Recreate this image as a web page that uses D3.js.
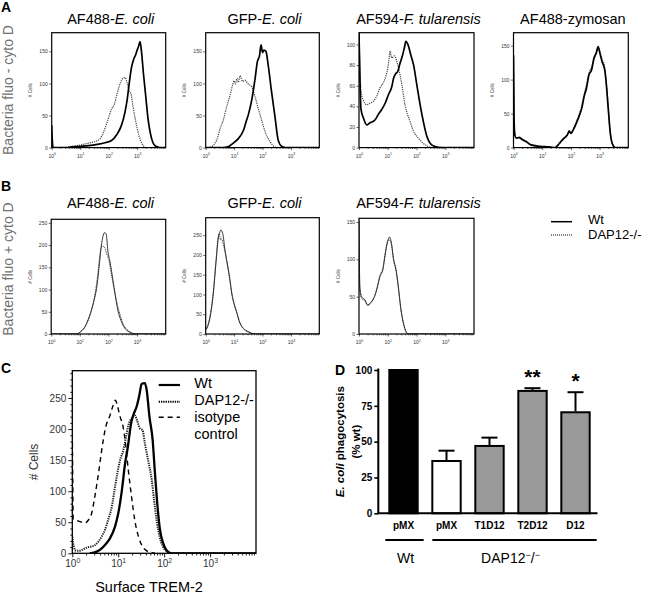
<!DOCTYPE html>
<html><head><meta charset="utf-8">
<script src="https://cdn.jsdelivr.net/npm/d3@7"></script>
<style>body{margin:0;background:#fff}svg{display:block}</style>
</head><body><svg id="c" width="647" height="594"></svg>
<script>
// ---------- DATA (histograms: [log10 fluorescence, # cells]) ----------
const a1Wt  = [[0,35],[0.02,12],[0.05,0],[0.5,0],[0.7,1],[1.0,2],[1.3,3],[1.6,5],[1.9,8],[2.1,11],[2.28,20],[2.45,35],[2.57,55],[2.65,75],[2.72,100],[2.8,125],[2.88,138],[2.95,145],[3.0,152],[3.05,158],[3.1,165],[3.15,150],[3.22,115],[3.3,80],[3.38,45],[3.45,25],[3.55,8],[3.65,2],[3.8,0],[4,0]];
const a1Dap = [[0.5,0],[0.7,2],[1.0,4],[1.3,7],[1.55,10],[1.7,14],[1.8,22],[1.95,40],[2.1,60],[2.2,68],[2.3,85],[2.42,102],[2.5,108],[2.58,109],[2.65,100],[2.72,88],[2.78,84],[2.85,65],[2.93,45],[3.0,30],[3.1,13],[3.2,4],[3.3,0],[4,0]];
const a2Wt  = [[0,0],[0.6,0],[0.8,1.5],[0.97,7],[1.15,14],[1.33,27],[1.42,40],[1.5,51],[1.62,74],[1.74,108],[1.82,134],[1.89,142],[1.95,160],[2.0,148],[2.05,152],[2.12,150],[2.2,129],[2.31,90],[2.44,48],[2.55,12],[2.67,2],[2.8,0],[4,0]];
const a2Dap = [[0,0],[0.12,0],[0.25,3],[0.39,12],[0.51,30],[0.62,43],[0.74,64],[0.86,82],[0.95,98],[1.0,104],[1.05,99],[1.1,108],[1.15,102],[1.21,112],[1.3,103],[1.38,105],[1.5,99],[1.62,95],[1.74,79],[1.85,61],[1.97,43],[2.09,25],[2.27,9],[2.44,1],[2.6,0],[4,0]];
const a3Wt  = [[0,112],[0.07,37],[0.15,29],[0.27,22],[0.38,24],[0.47,25],[0.56,27],[0.67,32],[0.79,37],[0.91,43],[1.02,51],[1.14,59],[1.2,67],[1.26,71],[1.35,74],[1.43,82],[1.51,89],[1.58,97],[1.63,103],[1.7,100],[1.81,89],[1.9,80],[2.01,61],[2.13,41],[2.24,25],[2.36,11],[2.48,4],[2.65,1],[2.88,0],[4,0]];
const a3Dap = [[0,112],[0.07,55],[0.15,46],[0.27,41.5],[0.38,43],[0.5,45],[0.62,50],[0.73,58],[0.85,63],[0.93,69],[1.0,77],[1.05,87],[1.08,93.5],[1.14,87],[1.23,89],[1.31,84],[1.4,74],[1.49,61],[1.6,41.5],[1.78,25],[1.93,14],[2.07,9],[2.24,4],[2.42,1],[2.6,0],[4,0]];
const a4Wt  = [[0,136],[0.02,40],[0.05,18],[0.1,14],[0.2,15],[0.27,13],[0.44,9],[0.61,4],[0.9,2],[1.25,1],[1.45,0],[1.53,3],[1.65,9],[1.76,14],[1.88,19],[1.94,24.5],[2.0,21],[2.08,26],[2.19,36],[2.28,45.6],[2.38,58],[2.46,75],[2.54,87],[2.63,107],[2.72,114],[2.8,131],[2.88,139],[2.95,148.5],[3.01,139],[3.09,126],[3.18,114],[3.23,95],[3.3,58],[3.38,18.6],[3.46,4],[3.55,0],[4,0]];
const a4Dap = [[0,132],[0.02,38],[0.05,17],[0.1,14],[0.2,14],[0.27,12],[0.44,8],[0.61,4],[0.9,2],[1.25,1],[1.45,0],[1.53,2],[1.65,8],[1.76,13],[1.88,18],[1.94,23],[2.0,22],[2.08,27],[2.19,38],[2.28,48],[2.38,62],[2.46,78],[2.54,92],[2.63,110],[2.72,118],[2.8,128],[2.86,136],[2.92,142],[2.96,146],[3.02,140],[3.08,130],[3.15,124],[3.2,110],[3.27,78],[3.35,30],[3.44,6],[3.55,0],[4,0]];
const b1Wt  = [[0,0],[0.89,0],[1.0,4],[1.17,15],[1.34,41],[1.48,71],[1.6,109],[1.69,161],[1.75,198],[1.8,217],[1.86,228],[1.92,225],[1.98,187],[2.06,161],[2.15,124],[2.24,86],[2.32,56],[2.44,30],[2.55,15],[2.72,5],[2.95,0],[4,0]];
const b1Dap = [[0,0],[0.89,0],[1.06,7.5],[1.23,22.5],[1.4,52],[1.52,86],[1.63,135],[1.71,183],[1.78,198],[1.86,195],[1.94,180],[2.01,168],[2.09,139],[2.21,97],[2.32,64],[2.4,45],[2.49,26],[2.63,11],[2.84,2],[3.0,0],[4,0]];
const b2Wt  = [[0,10],[0.09,23],[0.18,52],[0.27,103],[0.36,178],[0.45,246],[0.5,258],[0.53,263],[0.6,254],[0.68,212],[0.76,178],[0.84,145],[0.92,103],[1.0,77],[1.09,56],[1.19,31],[1.33,14],[1.5,6],[1.74,0],[4,0]];
const b2Dap = [[0,12],[0.09,26],[0.18,58],[0.27,110],[0.36,185],[0.43,240],[0.48,255],[0.52,238],[0.56,242],[0.6,232],[0.68,208],[0.76,175],[0.84,140],[0.92,100],[1.0,75],[1.09,54],[1.19,30],[1.33,13],[1.5,5],[1.74,0],[4,0]];
const b3Wt  = [[0,153],[0.03,63],[0.09,50],[0.21,45.6],[0.3,39],[0.38,41],[0.48,45.6],[0.56,52],[0.64,63],[0.73,77],[0.83,86],[0.91,106],[0.99,124],[1.03,128],[1.06,130],[1.13,121.5],[1.2,101],[1.29,86],[1.37,63],[1.45,36],[1.55,14],[1.64,3],[1.72,0],[4,0]];
const b3Dap = [[0,150],[0.03,58],[0.09,48],[0.21,44],[0.3,38],[0.38,40],[0.48,46],[0.56,53],[0.64,64],[0.73,79],[0.83,88],[0.91,108],[0.99,122],[1.04,127],[1.08,125],[1.13,119],[1.2,99],[1.29,84],[1.37,61],[1.45,34],[1.55,13],[1.64,2],[1.72,0],[4,0]];
const cWt   = [[0.38,0],[0.53,2.7],[0.64,8],[0.73,15],[0.82,24],[0.93,43],[1.0,64],[1.07,96],[1.15,145],[1.21,171.5],[1.28,209],[1.34,225],[1.4,236],[1.46,254.5],[1.51,273],[1.58,274],[1.62,262.6],[1.68,220],[1.75,182],[1.8,128.6],[1.85,80],[1.91,37.5],[1.98,16],[2.06,4],[2.16,0],[4,0]];
const cDap  = [[0,27],[0.06,5],[0.13,4],[0.2,5],[0.28,8],[0.35,10],[0.42,11],[0.49,13],[0.57,19],[0.64,27],[0.71,37.5],[0.78,53.6],[0.86,75],[0.93,107],[0.98,128.6],[1.04,150],[1.11,166],[1.17,187.5],[1.22,206],[1.29,217],[1.36,222],[1.41,214],[1.47,201],[1.53,198],[1.58,177],[1.65,150],[1.73,118],[1.78,86],[1.84,51],[1.9,27],[1.97,11],[2.06,3],[2.13,0],[4,0]];
const cIso  = [[0,193],[0.01,120],[0.02,55],[0.08,53.6],[0.17,51],[0.28,49],[0.35,53.6],[0.42,64],[0.49,91],[0.57,128.6],[0.64,166],[0.73,204],[0.82,222],[0.89,238.5],[0.94,246.5],[0.98,238.5],[1.04,220],[1.1,206],[1.15,182],[1.22,134],[1.29,91],[1.36,53.6],[1.44,27],[1.53,11],[1.62,4],[1.73,1],[1.8,0]];
// panel D
const dCats = ["pMX","pMX","T1D12","T2D12","D12"];
const dVals = [100,36.5,47,85.4,70.5];
const dErr  = [0,7.2,5.8,1.9,14];
const dSig  = ["","","","**","*"];
const dGroups = [{label:"Wt", from:0, to:0},{label:"DAP12", from:1, to:4}];
const yTicksA = [0,50,100,150];
const yTicksA3 = [0,20,40,60,80,100];
const yTicksB = [0,50,100,150,200,250];
const yTicksD = [0,25,50,75,100];
const decades = [1,10,100,1000];

// ---------- DRAWING ----------
const FONT = '"Liberation Sans", Arial, Helvetica, sans-serif';
const svg = d3.select("#c").attr("font-family", FONT);
const minorX = [];
decades.forEach(d => { for (let m = 2; m <= 9; m++) minorX.push(d*m); });
let clipN = 0;

const sty = {
  aWt:{color:"#000",width:1.7}, aDap:{color:"#444",width:1.2,dash:"1.2,1"},
  bWt:{color:"#222",width:0.9}, bDap:{color:"#333",width:1,dash:"1,0.8"},
  cWt:{color:"#000",width:2.3}, cDap:{color:"#222",width:2,dash:"1.3,1"}, cIso:{color:"#000",width:1.4,dash:"5,4"}
};

function drawHist(p) {
  const g = svg.append("g");
  const x = d3.scaleLog().domain([1,1e4]).range([p.left,p.right]);
  const y = d3.scaleLinear().domain([0,p.ymax]).range([p.bottom,p.top]);
  const id = "clip"+(clipN++);
  svg.append("clipPath").attr("id",id).append("rect")
    .attr("x",p.left).attr("y",p.top).attr("width",p.right-p.left).attr("height",p.bottom-p.top);
  const line = d3.line().x(d=>x(Math.pow(10,d[0]))).y(d=>y(d[1])).curve(d3.curveMonotoneX);
  p.series.forEach(s=>{
    g.append("path").datum(s.data).attr("d",line).attr("fill","none")
      .attr("stroke",s.st.color).attr("stroke-width",s.st.width)
      .attr("stroke-dasharray",s.st.dash||null).attr("stroke-linejoin","round")
      .attr("clip-path",`url(#${id})`);
  });
  g.append("rect").attr("x",p.left).attr("y",p.top).attr("width",p.right-p.left).attr("height",p.bottom-p.top)
    .attr("fill","none").attr("stroke","#000").attr("stroke-width",p.box);
  // y axis
  const ya = g.append("g").attr("transform",`translate(${p.left},0)`)
    .call(d3.axisLeft(y).tickValues(p.yticks).tickSize(p.tick).tickPadding(p.pad).tickSizeOuter(0));
  ya.select(".domain").remove();
  ya.attr("font-family",FONT).attr("font-size",p.fs);
  ya.selectAll("text").attr("fill",p.tc);
  ya.selectAll("line").attr("stroke-width",p.tw);
  if (p.yMinor) {
    const ym = g.append("g").attr("transform",`translate(${p.left},0)`)
      .call(d3.axisLeft(y).tickValues(p.yMinor).tickSize(p.tick*0.5).tickFormat(()=>"").tickSizeOuter(0));
    ym.select(".domain").remove();
    ym.selectAll("line").attr("stroke-width",p.tw);
  }
  // x axis
  const xa = g.append("g").attr("transform",`translate(0,${p.bottom})`)
    .call(d3.axisBottom(x).tickValues(decades).tickSize(p.tick).tickFormat(()=>"").tickSizeOuter(0));
  xa.select(".domain").remove();
  xa.selectAll("line").attr("stroke-width",p.tw);
  xa.selectAll(".tick text").remove();
  xa.selectAll(".tick").append("text").attr("y",p.xlab).attr("text-anchor","middle")
    .attr("font-family",FONT).attr("font-size",p.fs).attr("fill",p.tc)
    .each(function(d){
      const t = d3.select(this);
      t.append("tspan").text("10");
      t.append("tspan").attr("dy",-p.fs*0.45).attr("font-size",p.fs*0.7).text(Math.round(Math.log10(d)));
    });
  const xm = g.append("g").attr("transform",`translate(0,${p.bottom})`)
    .call(d3.axisBottom(x).tickValues(minorX).tickSize(p.tick*0.55).tickFormat(()=>"").tickSizeOuter(0));
  xm.select(".domain").remove();
  xm.selectAll("line").attr("stroke-width",p.tw);
  // y label
  g.append("text").attr("transform",`translate(${p.ylabX},${(p.top+p.bottom)/2}) rotate(-90)`)
    .attr("text-anchor","middle").attr("font-size",p.ylabFs).attr("fill",p.tc).text("# Cells");
  // title
  if (p.title) {
    const t = g.append("text").attr("x",(p.left+p.right)/2+2).attr("y",p.titleY)
      .attr("text-anchor","middle").attr("font-size",14.5).attr("fill","#000");
    p.title.forEach(part=>t.append("tspan").attr("font-style",part[1]?"italic":"normal").text(part[0]));
  }
}

const small = {tick:2.5,pad:1.5,fs:5,tc:"#333",tw:0.6,box:1.2,ylabFs:4.6};
const A = (o)=>Object.assign({},small,{top:32.7,bottom:147.6,xlab:10,ylabX:o.left-19.5,titleY:24},o);
const B = (o)=>Object.assign({},small,{bottom:334,xlab:10,ylabX:o.left-19.5,titleY:208},o);

drawHist(A({left:51.7,right:165.7,ymax:179,yticks:yTicksA,title:[["AF488-",0],["E. coli",1]],
  series:[{data:a1Dap,st:sty.aDap},{data:a1Wt,st:sty.aWt}]}));
drawHist(A({left:205.7,right:319.3,ymax:179,yticks:yTicksA,title:[["GFP-",0],["E. coli",1]],
  series:[{data:a2Dap,st:sty.aDap},{data:a2Wt,st:sty.aWt}]}));
drawHist(A({left:359,right:474,ymax:111.4,yticks:yTicksA3,title:[["AF594-",0],["F. tularensis",1]],
  series:[{data:a3Dap,st:sty.aDap},{data:a3Wt,st:sty.aWt}]}));
drawHist(A({left:513.5,right:628.3,ymax:169,yticks:yTicksA,title:[["AF488-zymosan",0]],
  series:[{data:a4Dap,st:sty.aDap},{data:a4Wt,st:sty.aWt}]}));
drawHist(B({left:51.2,right:165.7,top:219.3,ymax:258,yticks:yTicksB,title:[["AF488-",0],["E. coli",1]],
  series:[{data:b1Dap,st:sty.bDap},{data:b1Wt,st:sty.bWt}]}));
drawHist(B({left:205.7,right:319.3,top:217.7,ymax:294,yticks:yTicksB,title:[["GFP-",0],["E. coli",1]],
  series:[{data:b2Dap,st:sty.bDap},{data:b2Wt,st:sty.bWt}]}));
drawHist(B({left:359,right:474,top:218.3,ymax:155,yticks:yTicksA,title:[["AF594-",0],["F. tularensis",1]],
  series:[{data:b3Dap,st:sty.bDap},{data:b3Wt,st:sty.bWt}]}));

// Panel C
drawHist({left:72.3,right:256,top:370.7,bottom:553.3,ymax:294,yticks:yTicksB,
  yMinor:d3.range(10,291,10).filter(v=>v%50!==0),
  tick:4,pad:2,fs:10,tc:"#333",tw:0.9,box:1.3,xlab:14,ylabX:38,ylabFs:12,
  series:[{data:cIso,st:sty.cIso},{data:cDap,st:sty.cDap},{data:cWt,st:sty.cWt}]});
svg.append("text").attr("x",149).attr("y",592).attr("text-anchor","middle").attr("font-size",14.5).text("Surface TREM-2");

// side labels & panel letters
svg.append("text").attr("transform","translate(12.5,90) rotate(-90)").attr("text-anchor","middle")
  .attr("font-size",14).attr("fill","#707070").text("Bacteria fluo - cyto D");
svg.append("text").attr("transform","translate(12.5,269) rotate(-90)").attr("text-anchor","middle")
  .attr("font-size",14).attr("fill","#707070").text("Bacteria fluo + cyto D");
[["A",1,12],["B",1,191],["C",1,373],["D",335,375]].forEach(l=>
  svg.append("text").attr("x",l[1]).attr("y",l[2]).attr("font-size",14).attr("font-weight","bold").text(l[0]));

// legends
function legend(items, x1, x2, tx, fs) {
  items.forEach(it=>{
    svg.append("line").attr("x1",x1).attr("x2",x2).attr("y1",it.ly).attr("y2",it.ly)
      .attr("stroke","#000").attr("stroke-width",it.st.width).attr("stroke-dasharray",it.st.dash||null);
    it.lines.forEach((s,i)=>svg.append("text").attr("x",tx).attr("y",it.ty+i*17.5).attr("font-size",fs).text(s));
  });
}
legend([{ly:221.7,ty:223.5,st:{width:1.5},lines:["Wt"]},
        {ly:235,ty:238.5,st:{width:1.2,dash:"1,1"},lines:["DAP12-/-"]}],551,572,588,13);
legend([{ly:385,ty:388,st:{width:2.2},lines:["Wt"]},
        {ly:401.7,ty:405,st:{width:2,dash:"1.3,1"},lines:["DAP12-/-"]},
        {ly:417.3,ty:421.5,st:{width:1.5,dash:"5,4"},lines:["isotype","control"]}],158.7,180,194.3,14.5);

// Panel D
(function(){
  const g = svg.append("g");
  const x = d3.scaleBand().domain(d3.range(dCats.length)).range([382,597]).paddingInner(0.34).paddingOuter(0.17);
  const y = d3.scaleLinear().domain([0,100]).range([513.3,370]);
  const fills = ["#000","#fff","#999","#999","#999"];
  g.selectAll("rect.bar").data(dVals).join("rect").attr("class","bar")
    .attr("x",(d,i)=>x(i)).attr("width",x.bandwidth()).attr("y",d=>y(d)).attr("height",d=>y(0)-y(d))
    .attr("fill",(d,i)=>fills[i]).attr("stroke","#000").attr("stroke-width",2);
  dVals.forEach((v,i)=>{
    if (!dErr[i]) return;
    const cx = x(i)+x.bandwidth()/2;
    g.append("line").attr("x1",cx).attr("x2",cx).attr("y1",y(v)-1).attr("y2",y(v+dErr[i])).attr("stroke","#000").attr("stroke-width",2);
    g.append("line").attr("x1",cx-8).attr("x2",cx+8).attr("y1",y(v+dErr[i])).attr("y2",y(v+dErr[i])).attr("stroke","#000").attr("stroke-width",2);
    if (dSig[i]) g.append("text").attr("x",cx).attr("y",y(v+dErr[i])-4).attr("text-anchor","middle")
      .attr("font-size",21).attr("font-weight","bold").text(dSig[i]);
  });
  const ya = g.append("g").attr("transform","translate(378.3,0)")
    .call(d3.axisLeft(y).tickValues(yTicksD).tickSize(4).tickPadding(2).tickSizeOuter(0));
  ya.attr("font-family",FONT).attr("font-size",10).attr("font-weight","bold");
  ya.selectAll("text").attr("fill","#000");
  ya.select(".domain").attr("stroke-width",2).attr("d","M0,513.3V368.5");
  ya.selectAll("line").attr("stroke-width",1.6);
  g.append("line").attr("x1",377.3).attr("x2",597.5).attr("y1",513.3).attr("y2",513.3).attr("stroke","#000").attr("stroke-width",2);
  dCats.forEach((c,i)=>g.append("text").attr("x",x(i)+x.bandwidth()/2).attr("y",528.5).attr("text-anchor","middle")
    .attr("font-size",10).attr("font-weight","bold").text(c));
  dGroups.forEach((gr,k)=>{
    const x1 = x(gr.from) - (k===0?4:0), x2 = x(gr.to)+x.bandwidth()+(k===0?6:7);
    g.append("line").attr("x1",x1).attr("x2",x2).attr("y1",540).attr("y2",540).attr("stroke","#000").attr("stroke-width",2);
    const t = g.append("text").attr("x",(x1+x2)/2 + (k===0?1:-4)).attr("y",563).attr("text-anchor","middle").attr("font-size",14);
    t.append("tspan").text(gr.label);
    if (k===1) {
      t.append("tspan").attr("dy",-5).attr("font-size",9).text("\u2212");
      t.append("tspan").attr("dy",5).text("/");
      t.append("tspan").attr("dy",-5).attr("font-size",9).text("\u2212");
    }
  });
  const lab = g.append("text").attr("transform","translate(344,441.7) rotate(-90)").attr("text-anchor","middle")
    .attr("font-size",11.5).attr("font-weight","bold");
  lab.append("tspan").attr("font-style","italic").text("E. coli");
  lab.append("tspan").text(" phagocytosis");
  g.append("text").attr("transform","translate(359.5,441.7) rotate(-90)").attr("text-anchor","middle")
    .attr("font-size",11.5).attr("font-weight","bold").text("(% wt)");
})();
</script></body></html>
